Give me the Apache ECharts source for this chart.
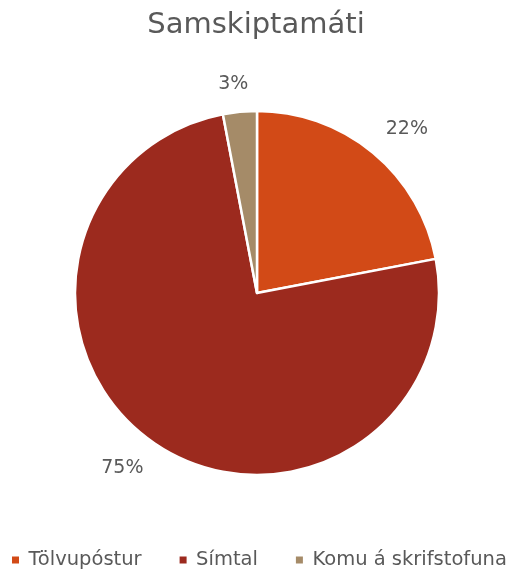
<!DOCTYPE html>
<html><head><meta charset="utf-8">
<script src="https://cdn.jsdelivr.net/npm/echarts@6/dist/echarts.min.js"></script>
<style>html,body{margin:0;padding:0;background:#fff}#c{width:512px;height:572px}</style>
</head><body><div id="c"></div>
<script>
const titleText = 'Samskiptamáti';
const categories = ['Tölvupóstur', 'Símtal', 'Komu á skrifstofuna'];
const values = [22, 75, 3];
const colors = ['#D24A17', '#9C2A1E', '#A58B68'];

const FONT = 'DejaVu Sans';
const CX = 257, CY = 293, R = 182, LABEL_R = 202;
const total = values.reduce((a, b) => a + b, 0);
const clamp = v => Math.max(-1, Math.min(1, v));

function labelLayout(params) {
  const i = params.dataIndex;
  const before = values.slice(0, i).reduce((a, b) => a + b, 0);
  const mid = (before + values[i] / 2) / total * 2 * Math.PI;
  const dx = Math.sin(mid), dy = -Math.cos(mid);
  const w = params.labelRect.width, h = params.labelRect.height;
  return {
    x: CX + dx * LABEL_R + w / 2 * clamp(dx / 0.3),
    y: CY + dy * LABEL_R + h / 2 * clamp(dy / 0.3) * 0.85,
    align: 'center', verticalAlign: 'middle'
  };
}

const chart = echarts.init(document.getElementById('c'), null, {renderer: 'canvas'});
chart.setOption({
  animation: false,
  color: colors,
  title: {
    text: titleText, left: 'center', top: 6,
    textStyle: {fontFamily: FONT, fontSize: 29, fontWeight: 'normal', color: '#595959'}
  },
  legend: {
    top: 545, left: 7,
    icon: 'path://M0,0H10V10H0Z', itemWidth: 16, itemHeight: 7, itemGap: 38,
    itemStyle: {borderWidth: 0},
    textStyle: {fontFamily: FONT, fontSize: 19.5, color: '#595959'},
    data: categories
  },
  series: [{
    type: 'pie',
    center: [CX, CY],
    radius: [0, R],
    startAngle: 90,
    clockwise: true,
    avoidLabelOverlap: false,
    itemStyle: {borderColor: '#fff', borderWidth: 2.5},
    label: {
      show: true, position: 'outside',
      formatter: p => p.value + '%',
      fontFamily: FONT, fontSize: 19, color: '#595959'
    },
    labelLine: {show: false, length: 20, length2: 0},
    labelLayout: labelLayout,
    data: categories.map((c, i) => ({name: c, value: values[i]}))
  }]
});
</script></body></html>
